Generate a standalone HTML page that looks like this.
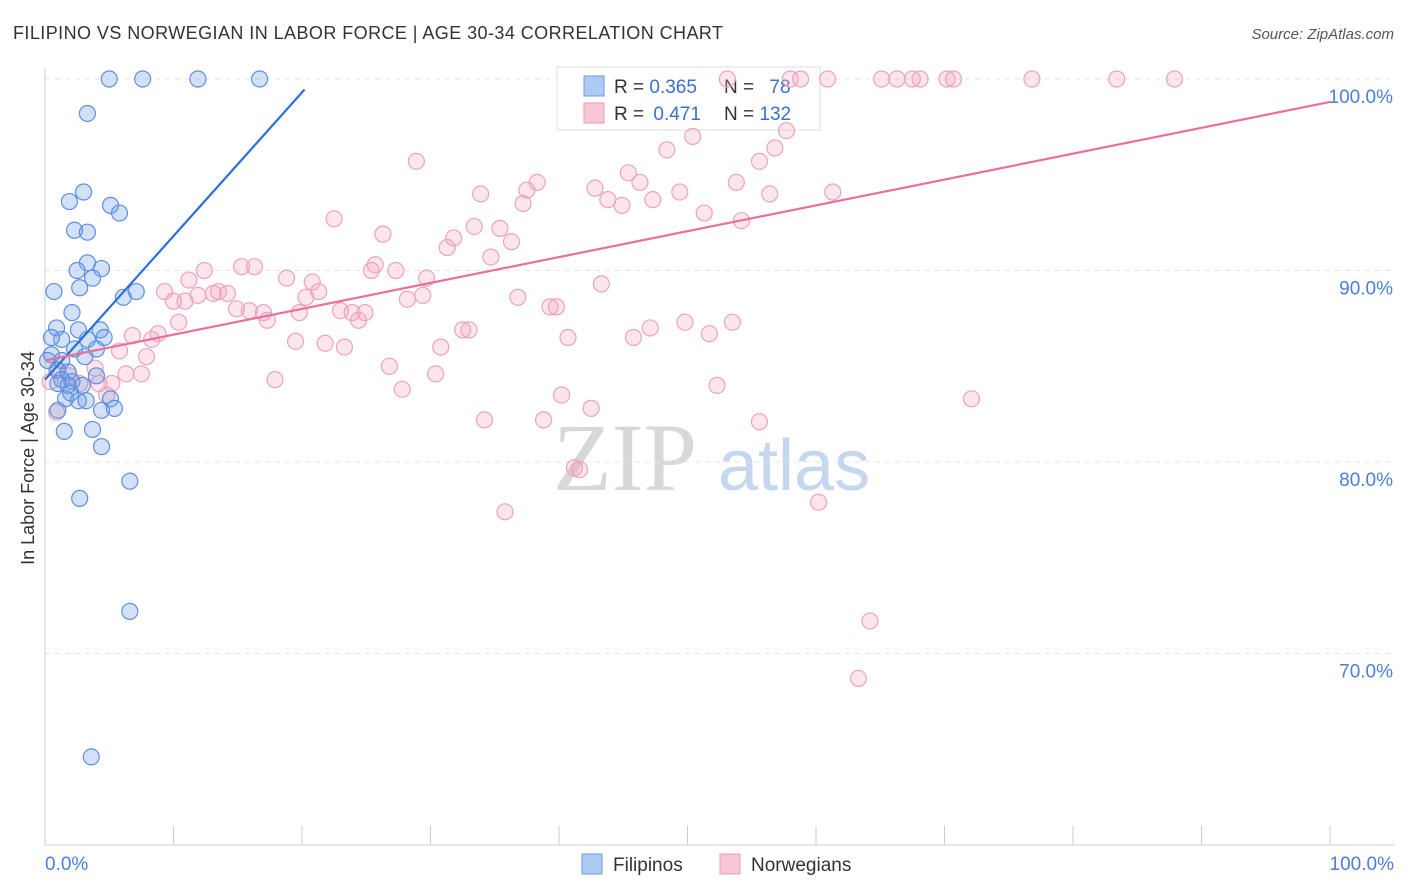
<!DOCTYPE html>
<html><head><meta charset="utf-8">
<style>
body{margin:0;background:#fff;font-family:"Liberation Sans",sans-serif;}
#wrap{position:relative;width:1406px;height:892px;overflow:hidden;}
</style></head>
<body>
<div id="wrap">
<svg id="chart" width="1406" height="892" xmlns="http://www.w3.org/2000/svg">
<text x="13" y="39" font-size="18" fill="#333" textLength="710" lengthAdjust="spacing">FILIPINO VS NORWEGIAN IN LABOR FORCE | AGE 30-34 CORRELATION CHART</text>
<text x="1394" y="39" font-size="15" fill="#555" text-anchor="end" font-style="italic">Source: ZipAtlas.com</text>
<text x="34" y="458" font-size="18" fill="#333" text-anchor="middle" transform="rotate(-90 34 458)">In Labor Force | Age 30-34</text>
<g>
<text x="553" y="490" font-size="96" fill="#d8d8d8" font-family="Liberation Serif,serif">ZIP</text>
<text x="718" y="490" font-size="72" fill="#c5d6ef">atlas</text>
</g>
<g id="grid"></g>
<g id="axes"></g>
<g>
<rect x="557" y="67" width="263" height="63" fill="#fff" stroke="#ddd"/>
<rect x="584" y="76" width="20" height="20" fill="#aecbf3" stroke="#6d9ae0"/>
<rect x="584" y="103" width="20" height="20" fill="#f8c6d6" stroke="#e99ab5"/>
<text x="614" y="93" font-size="19" fill="#333">R = <tspan fill="#3a6fd0">0.365</tspan></text>
<text x="724" y="93" font-size="19" fill="#333">N = <tspan fill="#3a6fd0" dx="10">78</tspan></text>
<text x="614" y="120" font-size="19" fill="#333">R = <tspan fill="#3a6fd0" dx="4">0.471</tspan></text>
<text x="724" y="120" font-size="19" fill="#333">N = <tspan fill="#3a6fd0">132</tspan></text>
</g>
<g id="marks"></g>
<g>
<rect x="582" y="854" width="20" height="20" fill="#aecbf3" stroke="#6d9ae0"/>
<text x="613" y="871" font-size="19" fill="#333">Filipinos</text>
<text x="751" y="871" font-size="19" fill="#333">Norwegians</text>
<rect x="720" y="854" width="20" height="20" fill="#f8c6d6" stroke="#e99ab5"/>
</g>
</svg>
</div>
<script>
const yTicks=[100,90,80,70];
const yTickLabels=["100.0%","90.0%","80.0%","70.0%"];
const xTicks=[0,10,20,30,40,50,60,70,80,90,100];
const xEndLabels=["0.0%","100.0%"];
const filipinosX=[5.0,7.6,11.9,16.7,3.3,1.9,3.0,5.1,5.8,2.3,3.3,3.3,4.4,2.5,3.7,2.7,0.7,7.1,6.1,2.1,0.9,2.6,4.3,4.6,0.5,1.3,3.3,2.3,4.0,0.5,3.1,1.3,0.2,1.0,1.8,4.0,1.3,2.1,1.0,1.8,2.9,2.0,1.6,5.1,2.6,3.2,4.4,5.4,1.0,1.5,3.7,4.4,6.6,2.7,6.6,3.6];
const filipinosY=[100,100,100,100,98.2,93.6,94.1,93.4,93.0,92.1,92.0,90.4,90.1,90.0,89.6,89.1,88.9,88.9,88.6,87.8,87.0,86.9,86.9,86.5,86.5,86.4,86.4,85.9,85.9,85.6,85.5,85.3,85.3,84.8,84.7,84.5,84.3,84.2,84.1,84.0,84.0,83.6,83.3,83.3,83.2,83.2,82.7,82.8,82.7,81.6,81.7,80.8,79.0,78.1,72.2,64.6];
const norwegiansX=[53.1,58.0,58.8,60.9,65.1,66.3,67.5,68.1,70.2,70.7,76.8,83.4,87.9,28.9,57.7,56.8,55.6,50.4,48.4,45.4,46.3,38.3,37.5,33.9,42.8,43.8,44.9,47.3,49.4,53.8,56.4,61.3,37.2,51.3,54.2,22.5,26.3,33.4,35.4,36.3,31.8,31.3,34.7,15.3,16.3,12.4,25.7,27.3,25.4,18.8,20.8,29.7,11.2,9.3,14.2,13.5,11.9,13.1,21.3,20.3,10.0,10.9,29.4,28.2,36.8,43.3,15.9,14.9,17.0,17.3,19.8,23.0,23.9,24.9,24.4,39.3,39.8,10.4,8.8,6.8,8.3,19.5,21.8,23.3,32.5,33.0,40.7,45.8,47.1,49.8,51.7,53.5,30.8,5.8,7.9,26.8,30.4,17.9,27.8,6.3,7.5,4.2,5.2,4.8,2.7,1.9,0.9,0.4,0.9,34.2,38.8,40.2,42.5,52.3,55.6,72.1,41.2,41.6,35.8,60.2,64.2,63.3,3.9];
const norwegiansY=[100,100,100,100,100,100,100,100,100,100,100,100,100,95.7,97.3,96.4,95.7,97.0,96.3,95.1,94.6,94.6,94.2,94.0,94.3,93.7,93.4,93.7,94.1,94.6,94.0,94.1,93.5,93.0,92.6,92.7,91.9,92.3,92.2,91.5,91.7,91.2,90.7,90.2,90.2,90.0,90.3,90.0,90.0,89.6,89.4,89.6,89.5,88.9,88.8,88.9,88.7,88.8,88.9,88.6,88.4,88.4,88.7,88.5,88.6,89.3,87.9,88.0,87.8,87.4,87.8,87.9,87.8,87.8,87.4,88.1,88.1,87.3,86.7,86.6,86.4,86.3,86.2,86.0,86.9,86.9,86.5,86.5,87.0,87.3,86.7,87.3,86.0,85.8,85.5,85.0,84.6,84.3,83.8,84.6,84.6,84.1,84.1,83.5,84.1,84.5,84.8,84.2,82.6,82.2,82.2,83.5,82.8,84.0,82.1,83.3,79.7,79.6,77.4,77.9,71.7,68.7,84.9];
const filipinosTrend=[84.3,0.75];
const norwegiansTrend=[85.3,0.135];

const NS="http://www.w3.org/2000/svg";
const xPx=v=>45+v*12.85;
const yPx=v=>79+(100-v)*19.15;
function mk(tag,attrs,parent){const e=document.createElementNS(NS,tag);for(const k in attrs)e.setAttribute(k,attrs[k]);parent.appendChild(e);return e;}
const grid=document.getElementById('grid'),axes=document.getElementById('axes'),marks=document.getElementById('marks');
yTicks.forEach((t,i)=>{
  const l=mk('line',{x1:45,x2:1394,y1:yPx(t),y2:yPx(t),stroke:'#e4e4e4','stroke-dasharray':'5,5'},grid);
  
  
  const tx=mk('text',{x:1393,y:yPx(t)+24,'font-size':19,fill:'#4a7fd8','text-anchor':'end'},axes);
  tx.textContent=yTickLabels[i];
  
  
});
const ya=mk('line',{x1:45,x2:45,y1:68,y2:845,stroke:'#ccc'},axes);


const xa=mk('line',{x1:45,x2:1394,y1:845,y2:845,stroke:'#ccc'},axes);


xTicks.forEach(t=>{
  const l=mk('line',{x1:xPx(t),x2:xPx(t),y1:826,y2:845,stroke:'#ccc'},axes);
  
  
});
[[0,'start',45],[100,'end',1394]].forEach((d,i)=>{
  const tx=mk('text',{x:d[2],y:870,'font-size':19,fill:'#4a7fd8','text-anchor':d[1]},axes);
  tx.textContent=xEndLabels[i];
  
  
});
function drawPts(xs,ys,fill,stroke,name){
  xs.forEach((x,i)=>{
    const c=mk('circle',{cx:xPx(x),cy:yPx(ys[i]),r:8,fill:fill,stroke:stroke,'stroke-width':1.2},marks);
    
    
  });
}
drawPts(norwegiansX,norwegiansY,'rgba(244,160,190,0.28)','#eba3bd','norwegian-point');
drawPts(filipinosX,filipinosY,'rgba(110,155,230,0.30)','#5d8fe0','filipino-point');
const l1=mk('line',{x1:xPx(0),y1:yPx(filipinosTrend[0]),x2:xPx(20.2),y2:yPx(filipinosTrend[0]+filipinosTrend[1]*20.2),stroke:'#2a6fdb','stroke-width':2.2},marks);


const l2=mk('line',{x1:xPx(0),y1:yPx(norwegiansTrend[0]),x2:xPx(100),y2:yPx(norwegiansTrend[0]+norwegiansTrend[1]*100),stroke:'#e8709a','stroke-width':2.2},marks);


</script>
</body></html>
